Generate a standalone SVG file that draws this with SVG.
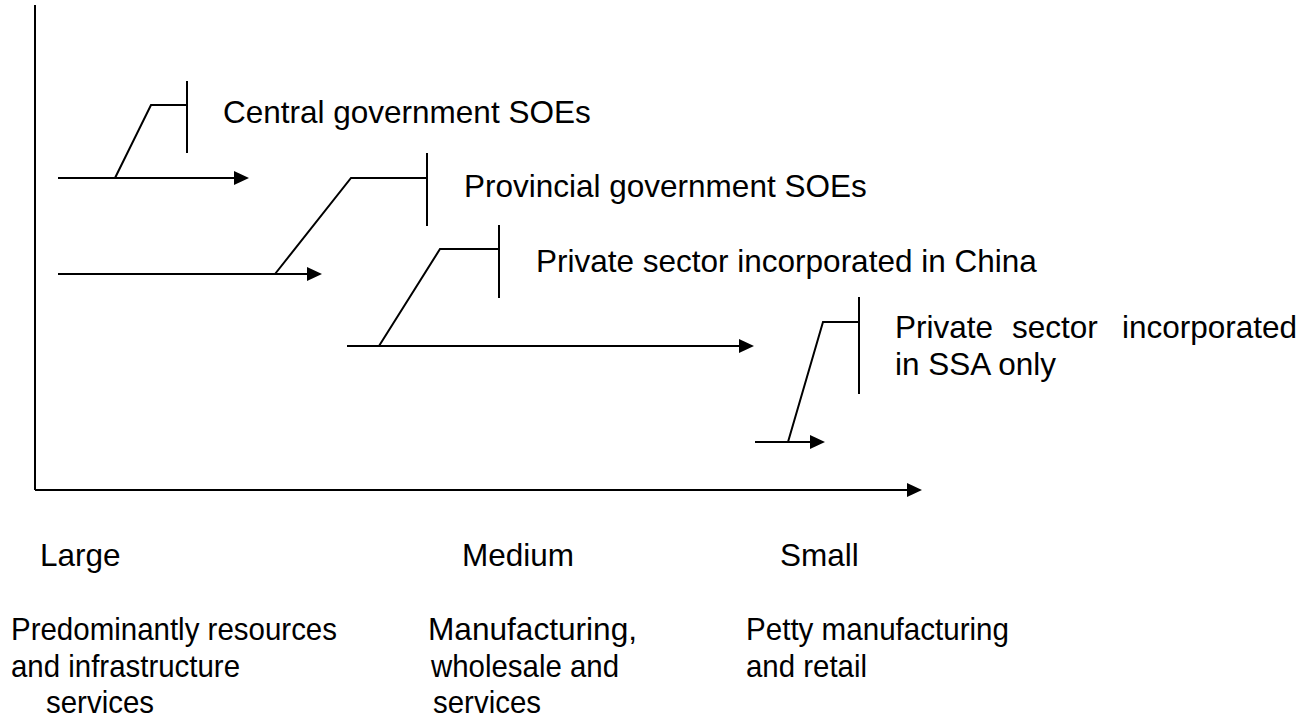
<svg xmlns="http://www.w3.org/2000/svg" width="1315" height="722" viewBox="0 0 1315 722">
<style>
.ln{stroke:#000;stroke-width:2;fill:none}
.ar{stroke:#000;stroke-width:2;fill:none;marker-end:url(#ah)}
.t{font-family:"Liberation Sans",Arial,sans-serif;font-size:31.5px;fill:#000}
.b{font-family:"Liberation Sans",Arial,sans-serif;font-size:32px;fill:#000}
</style>
<defs>
<marker id="ah" markerUnits="userSpaceOnUse" markerWidth="16" markerHeight="16" refX="1" refY="7" orient="auto">
<path d="M0,0 L15,7 L0,14 Z" fill="#000"/>
</marker>
</defs>
<rect width="1315" height="722" fill="#fff"/>
<g id="axes">
<path class="ln" d="M35,5 V490"/>
<path class="ar" d="M35,490 H908"/>
</g>
<g id="connectors">
<path class="ar" d="M58,178 H235"/>
<path class="ln" d="M115,178 L151,105 H187"/>
<path class="ln" d="M187,81 V153"/>
<path class="ar" d="M58,274 H308"/>
<path class="ln" d="M275,274 L351,178 H427"/>
<path class="ln" d="M427,153 V226"/>
<path class="ar" d="M347,346 H740"/>
<path class="ln" d="M379,346 L440,249 H499"/>
<path class="ln" d="M499,225 V298"/>
<path class="ar" d="M755,442 H811"/>
<path class="ln" d="M788,442 L823,322 H859"/>
<path class="ln" d="M859,297 V394"/>
</g>
<g id="central"><text class="t" x="223" y="123">Central government SOEs</text></g>
<g id="provincial"><text class="t" x="464" y="197">Provincial government SOEs</text></g>
<g id="china"><text class="t" x="536" y="272">Private sector incorporated in China</text></g>
<g id="ssa"><text class="t" y="338"><tspan x="895">Private</tspan><tspan x="1012">sector</tspan><tspan x="1122">incorporated</tspan></text><text class="t" x="895" y="375">in SSA only</text></g>
<g id="large"><text class="t" x="40" y="566">Large</text>
<text class="b" x="11" y="640" textLength="326" lengthAdjust="spacingAndGlyphs">Predominantly resources</text>
<text class="b" x="11" y="677" textLength="229" lengthAdjust="spacingAndGlyphs">and infrastructure</text>
<text class="b" x="46" y="713" textLength="108" lengthAdjust="spacingAndGlyphs">services</text></g>
<g id="medium"><text class="t" x="462" y="566">Medium</text>
<text class="b" x="428" y="640" textLength="209" lengthAdjust="spacingAndGlyphs">Manufacturing,</text>
<text class="b" x="431" y="677" textLength="188" lengthAdjust="spacingAndGlyphs">wholesale and</text>
<text class="b" x="433" y="713" textLength="108" lengthAdjust="spacingAndGlyphs">services</text></g>
<g id="small"><text class="t" x="780" y="566">Small</text>
<text class="b" x="746" y="640" textLength="263" lengthAdjust="spacingAndGlyphs">Petty manufacturing</text>
<text class="b" x="746" y="677" textLength="121" lengthAdjust="spacingAndGlyphs">and retail</text></g>
</svg>
